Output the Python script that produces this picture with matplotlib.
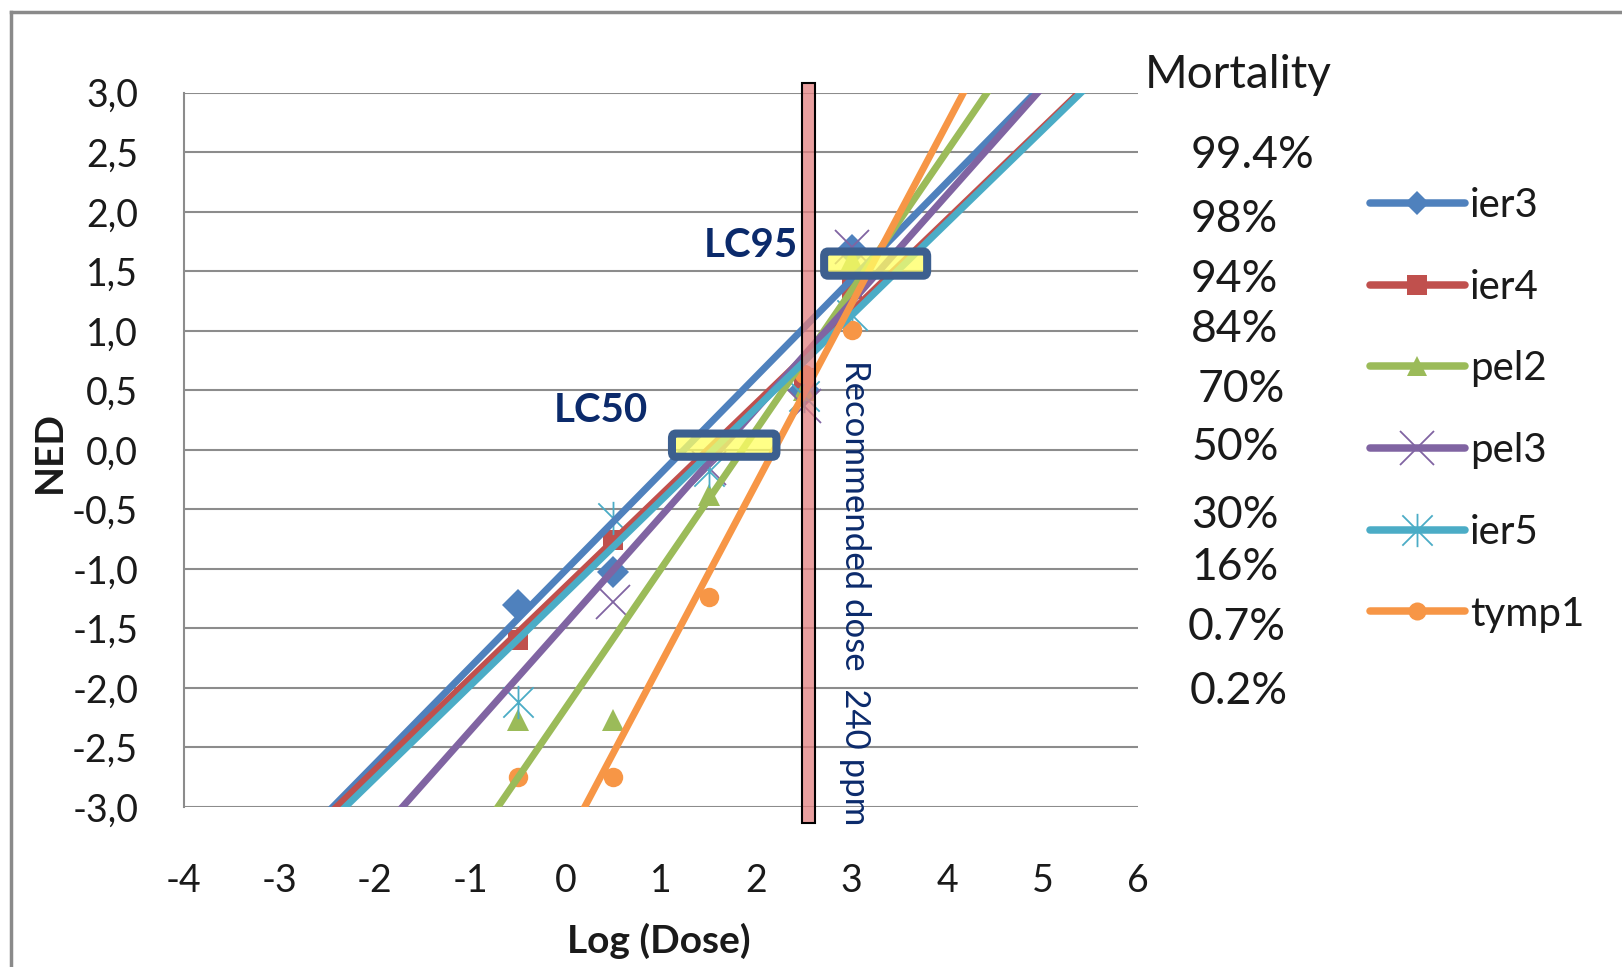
import matplotlib
matplotlib.use("Agg")
import matplotlib.pyplot as plt
import numpy as np
from matplotlib.lines import Line2D
from matplotlib.patches import Rectangle, FancyBboxPatch
from matplotlib.path import Path

plt.rcParams['font.family'] = ['Lato', 'DejaVu Sans']

# ---------------- data ----------------
series_names = ['ier3', 'ier4', 'pel2', 'pel3', 'ier5', 'tymp1']
series_colors = ['#4F81BD', '#C0504D', '#9BBB59', '#8064A2', '#4BACC6', '#F79646']

ier3_x = [-0.5, 0.5, 2.5, 3.0]
ier3_y = [-1.30, -1.03, 0.50, 1.68]
ier4_x = [-0.5, 0.5, 2.5, 3.0]
ier4_y = [-1.60, -0.76, 0.60, 1.35]
pel2_x = [-0.5, 0.5, 1.5, 2.5, 3.0]
pel2_y = [-2.27, -2.27, -0.38, 0.50, 1.60]
pel3_x = [0.5, 1.5, 2.5, 3.0]
pel3_y = [-1.28, -0.15, 0.37, 1.70]
ier5_x = [-0.5, 0.5, 1.5, 2.5, 3.0]
ier5_y = [-2.12, -0.57, -0.18, 0.45, 1.13]
tymp1_x = [-0.5, 0.5, 1.5, 2.5, 3.0]
tymp1_y = [-2.75, -2.75, -1.24, 0.64, 1.01]

# trendline (slope, intercept)
trend_slope = [0.815, 0.771, 1.170, 0.901, 0.778, 1.511]
trend_intercept = [-1.011, -1.149, -2.169, -1.459, -1.203, -3.302]

yticks = [-3.0, -2.5, -2.0, -1.5, -1.0, -0.5, 0.0, 0.5, 1.0, 1.5, 2.0, 2.5, 3.0]
xticks = [-4, -3, -2, -1, 0, 1, 2, 3, 4, 5, 6]

mortality_labels = ['99.4%', '98%', '94%', '84%', '70%', '50%', '30%', '16%', '0.7%', '0.2%']
mortality_ypix = [156, 219, 280, 330, 390, 448, 515, 568, 627, 692]
mortality_xpix = [1191, 1191, 1191, 1191, 1198, 1191, 1191, 1191, 1188, 1190]

# ---------------- figure ----------------
W, H = 1622, 967
fig = plt.figure(figsize=(W / 100, H / 100), dpi=100)
ax = fig.add_axes([184 / W, 1 - 807 / H, 954 / W, 714.3 / H])
ax.set_xlim(-4, 6)
ax.set_ylim(-3, 3)

for s in ['top', 'right', 'bottom']:
    ax.spines[s].set_visible(False)
ax.spines['left'].set_color('#8C8C8C')
ax.spines['left'].set_linewidth(1.5)

ax.set_yticks(yticks)
ax.set_yticklabels([f"{v:.1f}".replace('.', ',').replace('-0,0', '0,0') for v in yticks])
ax.set_xticks(xticks)
ax.set_xticklabels([str(v) for v in xticks])
ax.tick_params(axis='y', length=0, pad=33, labelsize=27, labelcolor='#1A1A1A')
ax.tick_params(axis='x', length=0, pad=40, labelsize=27, labelcolor='#1A1A1A')
ax.yaxis.grid(True, color='#8C8C8C', linewidth=1.5)
ax.xaxis.grid(False)
ax.set_axisbelow(True)

# asterisk marker: X plus vertical bar
ast = Path([(-1, -1), (1, 1), (-1, 1), (1, -1), (0, -1.1), (0, 1.1)],
           [Path.MOVETO, Path.LINETO, Path.MOVETO, Path.LINETO, Path.MOVETO, Path.LINETO])

xs_all = [ier3_x, ier4_x, pel2_x, pel3_x, ier5_x, tymp1_x]
ys_all = [ier3_y, ier4_y, pel2_y, pel3_y, ier5_y, tymp1_y]
markers = ['D', 's', '^', 'x', ast, 'o']
msizes = [16, 15, 16, 24, 24, 14]
mews = [0, 0, 0, 1.3, 1.3, 0]

xline = np.array([-4.0, 6.0])
handles = []
for i, name in enumerate(series_names):
    c = series_colors[i]
    filled = markers[i] not in ('x',) and i != 4
    ax.plot(xs_all[i], ys_all[i], linestyle='none', marker=markers[i], ms=msizes[i],
            color=c, mec=c, mew=mews[i] if not filled else 0, zorder=3)
    ax.plot(xline, trend_slope[i] * xline + trend_intercept[i], color=c, lw=5.0,
            zorder=4, solid_capstyle='butt')
    lms = {0: 12, 1: 14, 2: 14, 3: 24, 4: 24, 5: 13}[i]
    handles.append(Line2D([], [], color=c, lw=5.4, marker=markers[i], ms=lms,
                          mec=c, mew=mews[i] if not filled else 0,
                          solid_capstyle='round', label=name))

# recommended dose bar
ax.add_patch(Rectangle((2.473, -3.137), 0.141, 6.221, facecolor=(0.886, 0.498, 0.498, 0.75),
                       edgecolor='black', linewidth=1.5, zorder=6, clip_on=False))
ax.text(3.03, 0.754, 'Recommended dose  240 ppm', rotation=-90, ha='center', va='top',
        fontsize=25, color='#0B2A6B', zorder=7)

# LC boxes
for (x0, x1, y0, y1) in [(2.71, 3.79, 1.463, 1.666), (1.115, 2.21, -0.058, 0.137)]:
    ax.add_patch(FancyBboxPatch((x0, y0), x1 - x0, y1 - y0,
                                boxstyle='round,pad=0,rounding_size=0.04',
                                facecolor=(1.0, 1.0, 0.4, 0.78), edgecolor='#3C5F8F',
                                linewidth=5.8, zorder=8, clip_on=False))
ax.text(2.44, 1.72, 'LC95', ha='right', va='center', fontsize=29, fontweight='bold',
        color='#0B2A6B', zorder=9)
ax.text(0.864, 0.334, 'LC50', ha='right', va='center', fontsize=29, fontweight='bold',
        color='#0B2A6B', zorder=9)

# axis labels
fig.text(49 / W, 1 - 452 / H, 'NED', rotation=90, ha='center', va='center',
         fontsize=28, fontweight='bold', color='#1A1A1A')
fig.text(659 / W, 1 - 941 / H, 'Log (Dose)', ha='center', va='center',
         fontsize=28, fontweight='bold', color='#1A1A1A')

# mortality column
fig.text(1145 / W, 1 - 75 / H, 'Mortality', ha='left', va='center', fontsize=33, color='#1A1A1A')
for lab, xp, yp in zip(mortality_labels, mortality_xpix, mortality_ypix):
    fig.text(xp / W, 1 - yp / H, lab, ha='left', va='center', fontsize=32, color='#1A1A1A')

# legend
fig.legend(handles=handles, loc='upper left', bbox_to_anchor=(1370 / W, 1 - 187 / H),
           bbox_transform=fig.transFigure, frameon=False, fontsize=29,
           handlelength=2.35, handletextpad=0.13, labelspacing=1.11,
           borderpad=0, borderaxespad=0, labelcolor='#1A1A1A')

# outer frame
fig.add_artist(Line2D([11 / W, 11 / W], [0, 1 - 12 / H], color='#8A8A8A', lw=2.5,
                      transform=fig.transFigure))
fig.add_artist(Line2D([11 / W, 1], [1 - 12 / H, 1 - 12 / H], color='#8A8A8A', lw=2.5,
                      transform=fig.transFigure))

fig.savefig('out.png', dpi=100, facecolor='white')
